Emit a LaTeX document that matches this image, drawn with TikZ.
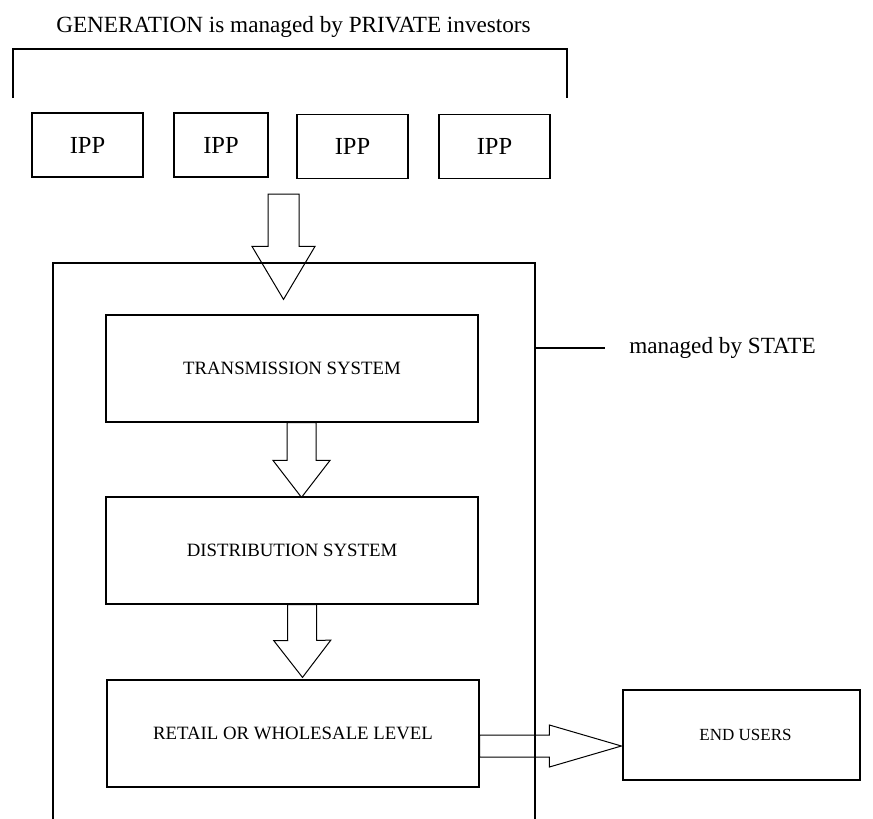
\documentclass[tikz,border=0pt]{standalone}
\usepackage{fontspec}
\setmainfont{Liberation Serif}
\usetikzlibrary{calc}
% hollow block arrow: tail, tip, half shaft, half head, head length
\newcommand{\fatarrow}[5]{%
	\coordinate (fathead) at ($(#2)!#5!(#1)$);
	\draw[fat] ($(#1)!#3!90:(#2)$) -- ($(fathead)!#3!90:(#2)$)
		-- ($(fathead)!#4!90:(#2)$) -- (#2)
		-- ($(fathead)!#4!-90:(#2)$) -- ($(fathead)!#3!-90:(#2)$)
		-- ($(#1)!#3!-90:(#2)$) -- cycle;
}

\begin{document}
\begin{tikzpicture}[x=1pt, y=-1pt, line width=1.2pt,
		box/.style={draw, inner sep=0pt, font=\fontsize{18.8}{22}\selectfont},
		ippbox/.style={draw, inner sep=0pt, minimum height=64pt, font=\fontsize{24.5}{28}\selectfont},
		big/.style={font=\fontsize{23.2}{27}\selectfont},
		fat/.style={line width=1pt, line join=miter}]
	\useasboundingbox (0,0) rectangle (873,819);
	\node[big, anchor=base] (title) at (293.5,32) {GENERATION is managed by PRIVATE investors};
	\draw (13,98) -- (13,49) -- (567,49) -- (567,98);
	\foreach \n/\cx/\cy/\w in {1/87.5/145/111, 2/221/145/94, 3/352.5/146.5/111, 4/494.5/146.5/111}
		\node[ippbox, minimum width=\w pt] (ipp\n) at (\cx,\cy) {IPP};
	% STATE part, open at the bottom
	\draw (53,819) -- (53,263) -- (535,263) -- (535,819);
	\coordinate (stateE) at (535,348);
	\node[big, anchor=base] (state) at (722.5,353) {managed by STATE};
	\draw (stateE) -- ([xshift=-20pt]state.west |- stateE);
	\node[box, minimum width=372pt, minimum height=107pt] (trans) at (292,368.5) {TRANSMISSION SYSTEM};
	\node[box, minimum width=372pt, minimum height=107pt] (dist) at (292,550.5) {DISTRIBUTION SYSTEM};
	\node[box, minimum width=372pt, minimum height=107pt] (retail) at (293,733.5) {RETAIL OR WHOLESALE LEVEL};
	\node[box, minimum width=237pt, minimum height=90pt, font=\fontsize{17}{20}\selectfont] (users) at (741.5,735) {\hspace*{8pt}END USERS};
	% block arrows
	\coordinate (genout) at (283.5,194);
	\coordinate (genin) at ($(trans.north)+(-8.5,-15)$);
	\fatarrow{genout}{genin}{15.5pt}{31.5pt}{53pt}
	\coordinate (transout) at ($(trans.south)+(9.5,0)$);
	\coordinate (distin) at ($(dist.north)+(9.5,1)$);
	\fatarrow{transout}{distin}{14.5pt}{28.5pt}{37pt}
	\coordinate (distout) at ($(dist.south)+(10,0)$);
	\coordinate (retailin) at ($(retail.north)+(9.5,-2)$);
	\fatarrow{distout}{retailin}{14.5pt}{28.5pt}{37pt}
	\coordinate (retailout) at ($(retail.east)+(0,12.5)$);
	\coordinate (usersin) at ($(users.west)+(-1,11)$);
	\fatarrow{retailout}{usersin}{11pt}{21pt}{72pt}
\end{tikzpicture}
\end{document}
